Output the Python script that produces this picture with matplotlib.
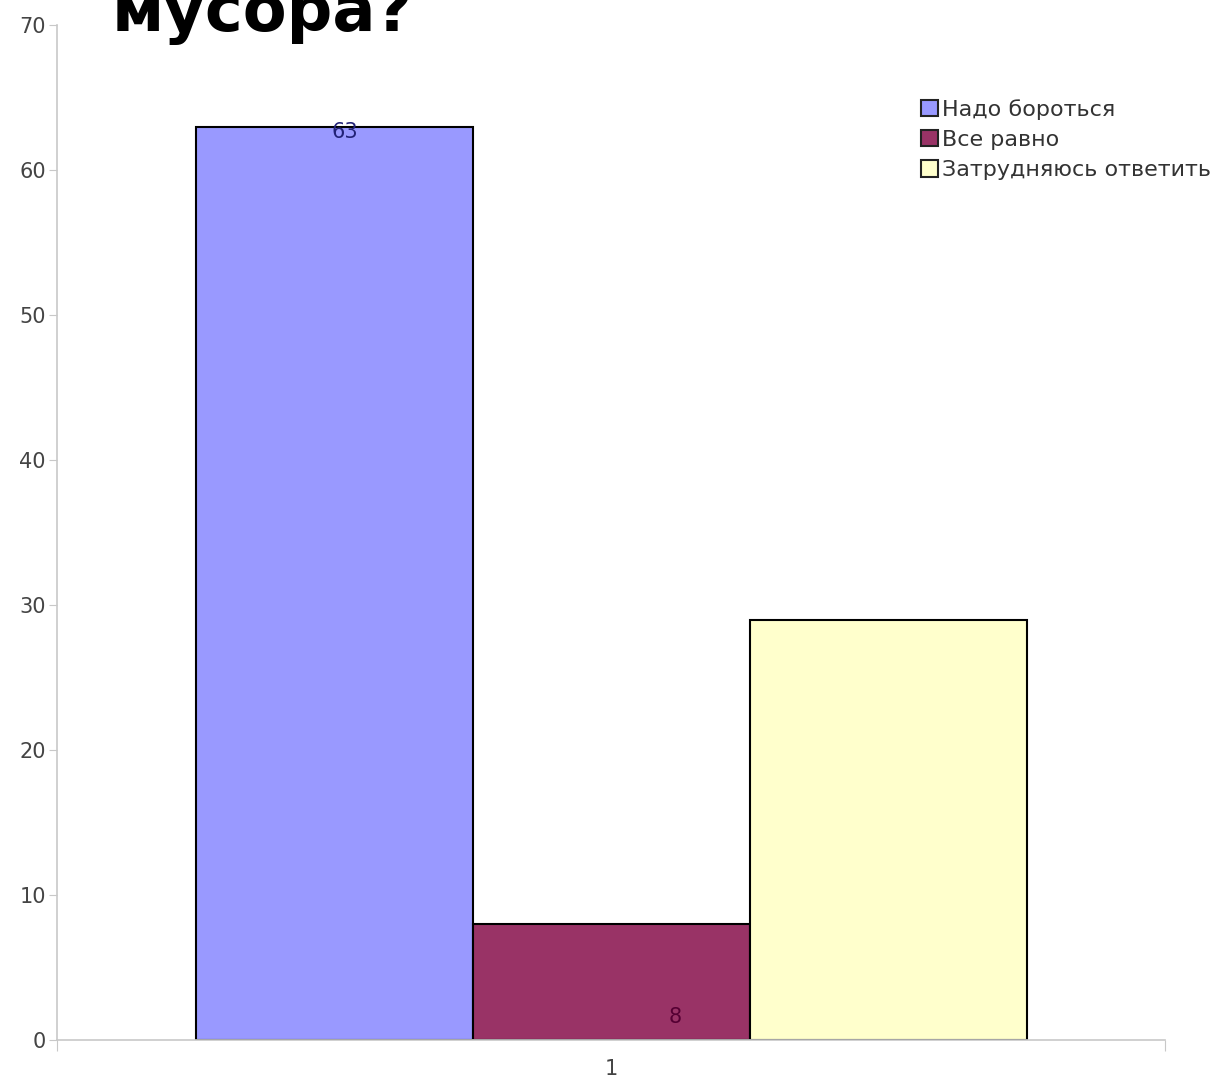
import matplotlib
matplotlib.use("Agg")
import matplotlib.pyplot as plt
from matplotlib.patches import Patch

categories = ["Надо бороться", "Все равно", "Затрудняюсь ответить"]
values = [63, 8, 29]
colors = ["#9999FF", "#993366", "#FFFFCC"]
label_colors = ["#222277", "#550033", None]
group_labels = ["1"]
title = "мусора?"

plt.rcParams['font.family'] = ['DejaVu Sans']

fig = plt.figure(figsize=(12.29, 10.81), dpi=100)
ax = fig.add_axes([57/1229, 41/1081, (1165-57)/1229, (1040-25)/1081])

w = 0.25
xs = [1 - w, 1, 1 + w]
bars = ax.bar(xs, values, width=w, color=colors, edgecolor="black", linewidth=1.5)

ax.set_xlim(0.5, 1.5)
ax.set_ylim(0, 70)
ax.set_yticks(range(0, 71, 10))
ax.set_xticks([0.5, 1.5])
ax.set_xticklabels(["", ""])
ax.set_xticks([1], minor=True)
ax.set_xticklabels(group_labels, minor=True)
ax.tick_params(axis='x', which='minor', length=0, pad=14, labelsize=15, labelcolor="#444444")
ax.tick_params(axis='x', which='major', length=8, color="#c8c8c8", direction='out')
ax.tick_params(axis='y', length=6, color="#c8c8c8", labelsize=15, labelcolor="#444444", pad=2)

for s in ["top", "right"]:
    ax.spines[s].set_visible(False)
for s in ["left", "bottom"]:
    ax.spines[s].set_color("#c8c8c8")
    ax.spines[s].set_linewidth(1.2)

# value labels
ax.text(xs[0] + 0.01, values[0] - 0.4, str(values[0]), ha='center', va='center', fontsize=15, color=label_colors[0])
ax.text(xs[1] + 0.058, 1.6, str(values[1]), ha='center', va='center', fontsize=15, color=label_colors[1])

handles = [Patch(facecolor=c, edgecolor="#222222", linewidth=1.5) for c in colors]
leg = fig.legend(handles, categories, loc='upper left', bbox_to_anchor=(921/1229, 1 - 99/1081),
                 frameon=False, fontsize=16, handlelength=0.75, handleheight=0.75,
                 handletextpad=0.2, labelspacing=0.46, borderaxespad=0, borderpad=0)
for t in leg.get_texts():
    t.set_color("#333333")

fig.text(112/1229, 1 - 31/1081, title, ha='left', va='baseline', fontsize=46,
         fontweight='bold', family=['DejaVu Sans'], color='black')

fig.savefig("out.png", dpi=100)
